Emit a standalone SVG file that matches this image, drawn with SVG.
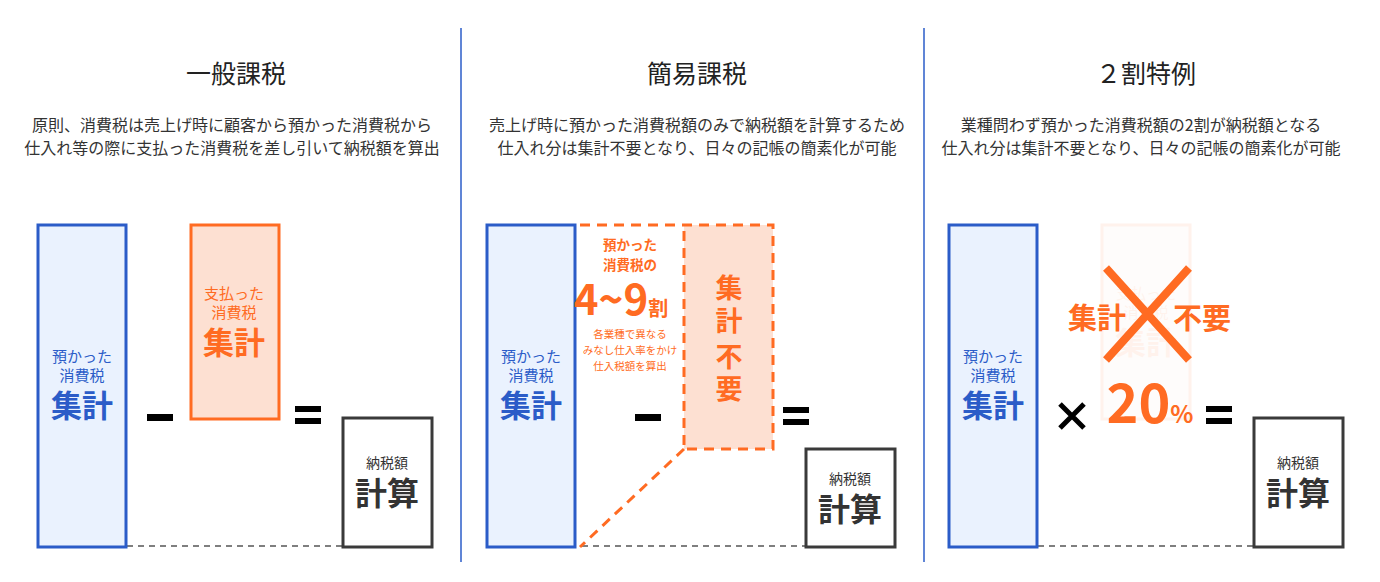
<svg xmlns="http://www.w3.org/2000/svg" width="1380" height="582" viewBox="0 0 1380 582">
<style>
text{font-family:"Noto Sans CJK JP","Noto Sans",sans-serif;text-anchor:middle}
.t{font-size:25px;fill:#222}
.d{font-size:16px;fill:#333}
.blue{fill:#eaf2fe;stroke:#2b5cc8;stroke-width:3}
.bt{fill:#2b5cc8}
.org{fill:#fde0d2;stroke:#ff6b22;stroke-width:3}
.ot{fill:#ff6b22}
.res{fill:#fff;stroke:#3a3a3a;stroke-width:3}
.rt{fill:#333}
.dash{stroke:#555;stroke-width:1.5;stroke-dasharray:6 5;fill:none}
.odash{stroke:#ff6b22;stroke-width:3;stroke-dasharray:10 7;fill:none}
.op{fill:#000}
.div{stroke:#2b5cc8;stroke-width:1.5}
</style>
<g id="dividers"><line class="div" x1="461" y1="28" x2="461" y2="562"/><line class="div" x1="924" y1="28" x2="924" y2="562"/></g>
<g id="headers">
<text class="t" x="236" y="83">一般課税</text>
<text class="d" x="232" y="131">原則、消費税は売上げ時に顧客から預かった消費税から</text>
<text class="d" x="232" y="154">仕入れ等の際に支払った消費税を差し引いて納税額を算出</text>
<text class="t" x="697" y="83">簡易課税</text>
<text class="d" x="697" y="131">売上げ時に預かった消費税額のみで納税額を計算するため</text>
<text class="d" x="697" y="154">仕入れ分は集計不要となり、日々の記帳の簡素化が可能</text>
<text class="t" x="1146" y="83">２割特例</text>
<text class="d" x="1141" y="131">業種問わず預かった消費税額の2割が納税額となる</text>
<text class="d" x="1141" y="154">仕入れ分は集計不要となり、日々の記帳の簡素化が可能</text>
</g>
<g id="connectors">
<line class="dash" x1="127" y1="546" x2="343" y2="546"/>
<line class="dash" x1="582" y1="546" x2="806" y2="546"/>
<line class="dash" x1="1038" y1="546" x2="1254" y2="546"/>
<line class="odash" x1="684" y1="449" x2="580" y2="547"/>
</g>
<g id="p1-a"><rect class="blue" x="38" y="225" width="88" height="322"/>
<text class="bt" x="82" y="362" font-size="15">預かった</text><text class="bt" x="82" y="381" font-size="15">消費税</text><text class="bt" x="82" y="417" font-size="31" font-weight="bold">集計</text></g>
<g id="p1-minus"><rect class="op" x="147" y="414" width="26" height="7"/></g>
<g id="p1-b"><rect class="org" x="191" y="225" width="88" height="194"/>
<text class="ot" x="234" y="299" font-size="15">支払った</text><text class="ot" x="234" y="318" font-size="15">消費税</text><text class="ot" x="234" y="354" font-size="31" font-weight="bold">集計</text></g>
<g id="p1-eq"><rect class="op" x="295" y="406" width="26" height="6"/><rect class="op" x="295" y="418" width="26" height="6"/></g>
<g id="p1-res"><rect class="res" x="343" y="418" width="89" height="129"/>
<text class="rt" x="387" y="468" font-size="14">納税額</text><text class="rt" x="387" y="505" font-size="32" font-weight="bold">計算</text></g>

<g id="p2-a"><rect class="blue" x="487" y="225" width="88" height="322"/>
<text class="bt" x="531" y="362" font-size="15">預かった</text><text class="bt" x="531" y="381" font-size="15">消費税</text><text class="bt" x="531" y="417" font-size="31" font-weight="bold">集計</text></g>
<g id="p2-b">
<rect x="684" y="225" width="89" height="224" fill="#fde0d2"/>
<path class="odash" d="M580 225 H773 V449 H684 V225"/>
<text class="ot" x="729" y="298" font-size="27" font-weight="bold">集</text>
<text class="ot" x="729" y="331" font-size="27" font-weight="bold">計</text>
<text class="ot" x="729" y="367" font-size="27" font-weight="bold">不</text>
<text class="ot" x="729" y="399" font-size="27" font-weight="bold">要</text>
<text class="ot" x="630" y="250" font-size="13.5" font-weight="bold">預かった</text>
<text class="ot" x="630" y="270" font-size="13.5" font-weight="bold">消費税の</text>
<text class="ot" x="621" y="315" font-size="42" font-weight="bold">4~9<tspan font-size="20" dy="1">割</tspan></text>
<text class="ot" x="630" y="338" font-size="10.5">各業種で異なる</text>
<text class="ot" x="630" y="354" font-size="10.5">みなし仕入率をかけ</text>
<text class="ot" x="630" y="370" font-size="10.5">仕入税額を算出</text>
</g>
<g id="p2-minus"><rect class="op" x="635" y="414" width="26" height="7"/></g>
<g id="p2-eq"><rect class="op" x="783" y="407" width="26" height="6"/><rect class="op" x="783" y="419" width="26" height="6"/></g>
<g id="p2-res"><rect class="res" x="806" y="449" width="89" height="98"/>
<text class="rt" x="850" y="484" font-size="14">納税額</text><text class="rt" x="850" y="521" font-size="32" font-weight="bold">計算</text></g>

<g id="p3-a"><rect class="blue" x="949" y="225" width="88" height="322"/>
<text class="bt" x="993" y="362" font-size="15">預かった</text><text class="bt" x="993" y="381" font-size="15">消費税</text><text class="bt" x="993" y="417" font-size="31" font-weight="bold">集計</text></g>
<g id="p3-b" opacity="0.08"><rect class="org" x="1102" y="225" width="88" height="194"/>
<text class="ot" x="1146" y="299" font-size="15">支払った</text><text class="ot" x="1146" y="318" font-size="15">消費税</text><text class="ot" x="1146" y="354" font-size="31" font-weight="bold">集計</text></g>
<g id="p3-x"><path d="M1106 268 L1189 360 M1189 268 L1106 360" stroke="#ff6b22" stroke-width="8"/>
<text class="ot" x="1097" y="329" font-size="29" font-weight="bold">集計</text>
<text class="ot" x="1202" y="329" font-size="29" font-weight="bold">不要</text></g>
<g id="p3-times"><path d="M1060 404 L1084 428 M1084 404 L1060 428" stroke="#000" stroke-width="5"/></g>
<g id="p3-rate"><text class="ot" x="1150" y="423" font-size="54" font-weight="bold" font-family="Noto Sans">20<tspan font-size="24">%</tspan></text></g>
<g id="p3-eq"><rect class="op" x="1206" y="406" width="26" height="6"/><rect class="op" x="1206" y="418" width="26" height="6"/></g>
<g id="p3-res"><rect class="res" x="1254" y="418" width="89" height="129"/>
<text class="rt" x="1298" y="468" font-size="14">納税額</text><text class="rt" x="1298" y="505" font-size="32" font-weight="bold">計算</text></g>
</svg>
